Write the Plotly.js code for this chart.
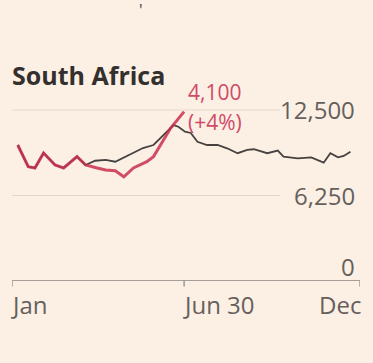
<!DOCTYPE html>
<html><head><meta charset="utf-8">
<script src="https://cdn.plot.ly/plotly-3.0.1.min.js"></script>
<style>html,body{margin:0;padding:0;background:#fcf0e5;}#c{width:373px;height:363px;}</style>
</head><body><div id="c"></div>
<script>
// Highlighted series (red), Jan to Jun 30
const redDates = ["2021-01-07","2021-01-18","2021-01-25","2021-02-03","2021-02-15","2021-02-24","2021-03-10","2021-03-19","2021-03-31","2021-04-09","2021-04-19","2021-04-28","2021-05-08","2021-05-22","2021-05-29","2021-06-05","2021-06-16","2021-06-30"];
const redValues = [9940,8360,8260,9360,8480,8260,9090,8480,8260,8110,8060,7620,8260,8720,9090,9940,11180,12380];
// Comparison series (grey), whole year
const greyDates = ["2021-01-07","2021-01-18","2021-01-25","2021-02-03","2021-02-15","2021-02-24","2021-03-10","2021-03-19","2021-03-29","2021-04-09","2021-04-19","2021-04-30","2021-05-10","2021-05-18","2021-05-29","2021-06-08","2021-06-19","2021-06-24","2021-07-01","2021-07-07","2021-07-14","2021-07-24","2021-08-04","2021-08-14","2021-08-25","2021-09-04","2021-09-11","2021-09-25","2021-10-06","2021-10-12","2021-10-27","2021-11-10","2021-11-23","2021-11-30","2021-12-08","2021-12-14","2021-12-21"];
const greyValues = [9940,8360,8260,9360,8480,8260,9090,8480,8790,8850,8720,9090,9450,9720,9940,10670,11400,11280,10910,10820,10180,9940,9940,9700,9340,9580,9630,9340,9530,9090,8970,9040,8650,9340,9040,9140,9450];
const yTicks = [0, 6250, 12500];
const yTickLabels = ["0", "6,250", "12,500"];
const xTickDates = ["2021-01-01", "2021-06-30", "2021-12-31"];
const xTickLabels = ["Jan", "Jun 30", "Dec"];
const chartTitle = "South Africa";
const endLabel = ["4,100", "(+4%)"];

const grey = "#45423f", red = "#c8304f", txt = "#66605c";
const font = "Open Sans, Noto Sans, sans-serif";

const traces = [
  {x: greyDates, y: greyValues, type: "scatter", mode: "lines", line: {color: grey, width: 1.8}, hoverinfo: "skip"},
  {x: redDates, y: redValues, type: "scatter", mode: "lines", line: {color: red, width: 3}, opacity: 0.85, hoverinfo: "skip"}
];

const annotations = [];
yTicks.forEach((v, i) => {
  annotations.push({xref: "paper", x: 0.99, xanchor: "right", yref: "y", y: v, yanchor: "middle",
    yshift: v === 0 ? 15 : 0, text: yTickLabels[i], showarrow: false,
    font: {family: font, size: 24, color: txt}});
});
xTickDates.forEach((d, i) => {
  annotations.push({xref: "x", x: d, xanchor: i === 2 ? "right" : "left", yref: "paper", y: 0, yanchor: "top",
    yshift: -5, xshift: i === 2 ? 3 : -3, text: xTickLabels[i], showarrow: false,
    font: {family: font, size: 24, color: txt}});
});
annotations.push({xref: "paper", x: -0.007, xanchor: "left", yref: "paper", y: 1.14, yanchor: "middle",
  text: "<b>" + chartTitle + "</b>", showarrow: false, font: {family: font, size: 25, color: "#33302e"}});
annotations.push({xref: "x", x: redDates[redDates.length - 1], xanchor: "left", xshift: 2, yref: "y", y: redValues[redValues.length - 1], yanchor: "middle",
  yshift: 20, text: endLabel[0], showarrow: false, font: {family: font, size: 21, color: "#cf4a68"}});
annotations.push({xref: "x", x: redDates[redDates.length - 1], xanchor: "left", xshift: 2, yref: "y", y: redValues[redValues.length - 1], yanchor: "middle",
  yshift: -10, text: endLabel[1], showarrow: false, font: {family: font, size: 21, color: "#cf4a68"}});
annotations.push({xref: "paper", x: 0.37, yref: "paper", y: 1.57, text: "'", showarrow: false, font: {family: font, size: 16, color: "#444"}});

const shapes = [];
[6250, 12500].forEach(v => shapes.push({type: "line", xref: "paper", x0: 0, x1: 0.77, yref: "y", y0: v, y1: v,
  line: {color: "#e3d5c9", width: 1.2}, layer: "below"}));
shapes.push({type: "line", xref: "paper", x0: 0, x1: 1, yref: "y", y0: 0, y1: 0, line: {color: "#8a847f", width: 1.5}});
xTickDates.forEach(d => shapes.push({type: "line", xref: "x", x0: d, x1: d, yref: "paper", y0: 0, y1: -0.03,
  line: {color: "#8a847f", width: 1.2}}));

Plotly.newPlot("c", traces, {
  width: 373, height: 363,
  margin: {l: 12, r: 13, t: 100, b: 82},
  paper_bgcolor: "#fcf0e5", plot_bgcolor: "#fcf0e5",
  showlegend: false,
  xaxis: {type: "date", range: ["2021-01-01", "2021-12-31"], showgrid: false, zeroline: false, showticklabels: false, ticks: "", showline: false},
  yaxis: {range: [0, 13230], showgrid: false, zeroline: false, showticklabels: false, ticks: "", showline: false},
  annotations: annotations, shapes: shapes
}, {staticPlot: true});
</script></body></html>
